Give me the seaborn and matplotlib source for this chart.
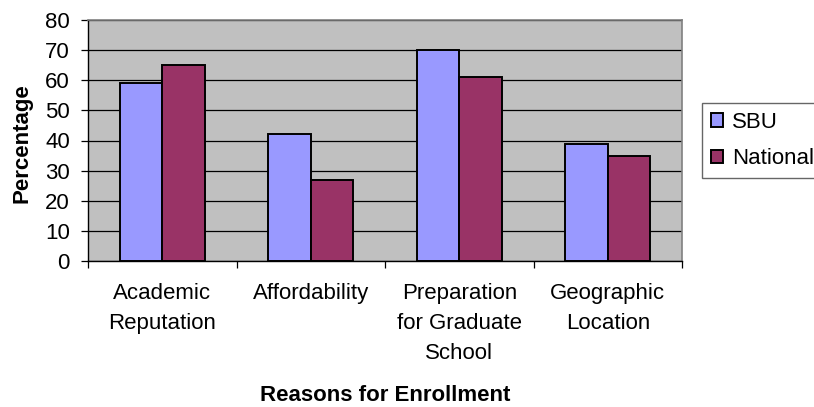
import matplotlib
matplotlib.use("Agg")
import matplotlib.pyplot as plt
import numpy as np
import pandas as pd
import seaborn as sns

CATEGORIES = ["Academic\nReputation", "Affordability",
              "Preparation\nfor Graduate\nSchool", "Geographic\nLocation"]
SBU = [59, 42, 70, 39]
NATIONAL = [65, 27, 61, 35]
SERIES = ["SBU", "National"]
COLORS = {"SBU": "#9999FF", "National": "#993366"}

df = pd.DataFrame({
    "category": CATEGORIES * 2,
    "series": ["SBU"] * len(CATEGORIES) + ["National"] * len(CATEGORIES),
    "value": SBU + NATIONAL,
})

sns.set_style("white")
plt.rcParams["font.family"] = ["Liberation Sans", "DejaVu Sans"]
plt.rcParams["text.color"] = "black"
plt.rcParams["axes.labelcolor"] = "black"
plt.rcParams["xtick.color"] = "black"
plt.rcParams["ytick.color"] = "black"

fig = plt.figure(figsize=(8.14, 4.07), dpi=100)
ax = fig.add_axes([88 / 814, 1 - 261 / 407, 594 / 814, 241 / 407])
ax.set_facecolor("#C0C0C0")

sns.barplot(data=df, x="category", y="value", hue="series", hue_order=SERIES,
            palette=COLORS, width=0.573, edgecolor="black", linewidth=1.4,
            saturation=1, ax=ax, zorder=3)

ax.set_ylim(0, 80)
ax.set_yticks(np.arange(0, 81, 10))
ax.set_xlim(-0.5, len(CATEGORIES) - 0.5)
ax.yaxis.grid(True, color="black", linewidth=0.9)
ax.set_axisbelow(True)

for side in ["top", "right"]:
    ax.spines[side].set_color("#808080")
    ax.spines[side].set_linewidth(1.2)
for side in ["left", "bottom"]:
    ax.spines[side].set_color("black")
    ax.spines[side].set_linewidth(1.0)

ax.tick_params(axis="y", which="major", left=True, length=5, width=0.9,
               labelsize=16, pad=8, labelcolor="black")
ax.tick_params(axis="x", which="major", length=0, labelsize=16, pad=16,
               labelcolor="black")
for lbl in ax.get_xticklabels():
    lbl.set_linespacing(1.55)
ax.set_xticks(np.arange(-0.5, len(CATEGORIES), 1), minor=True)
ax.tick_params(axis="x", which="minor", bottom=True, length=5, width=0.9)

ax.set_xlabel("Reasons for Enrollment", fontsize=16, fontweight="bold",
              va="top", color="black")
ax.xaxis.set_label_coords(0.5, -0.515)
ax.set_ylabel("Percentage", fontsize=16, fontweight="bold", color="black")
ax.yaxis.set_label_coords(-0.093, 0.49)

leg = ax.legend(loc="upper left", bbox_to_anchor=(702 / 814, 1 - 103 / 407),
                bbox_transform=fig.transFigure, fontsize=16, frameon=True,
                fancybox=False, handlelength=0.55, handleheight=0.55,
                borderpad=0.4, labelspacing=0.7, handletextpad=0.4,
                borderaxespad=0)
leg.get_frame().set_edgecolor("#404040")
leg.get_frame().set_linewidth(1)
for h in leg.legend_handles:
    h.set_edgecolor("black")
    h.set_linewidth(1.4)
for t in leg.get_texts():
    t.set_color("black")

fig.savefig("out.png", dpi=100)
